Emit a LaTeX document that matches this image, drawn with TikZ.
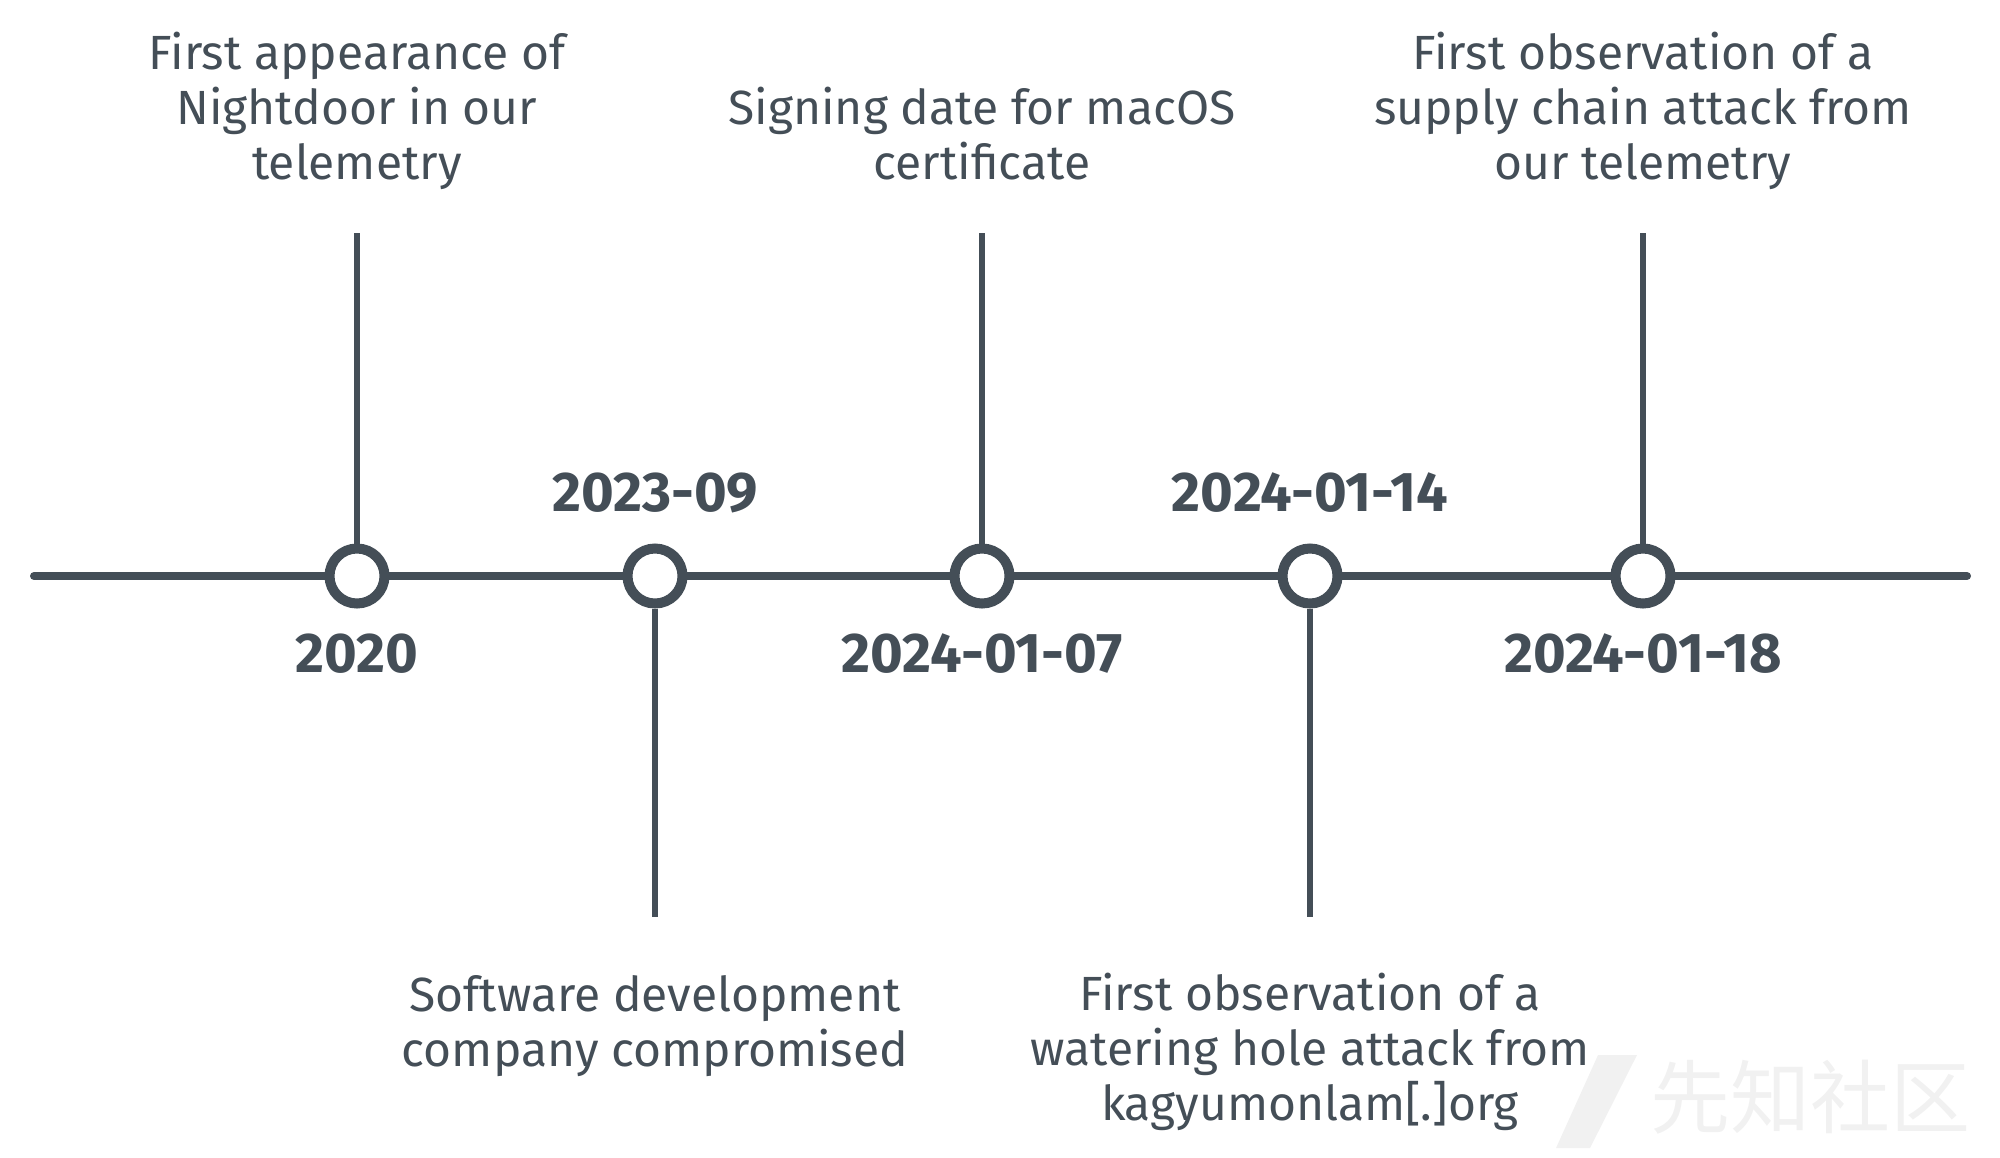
\documentclass[tikz,border=0pt]{standalone}
\usepackage{fontspec}
\setmainfont{Fira Sans}
\newfontfamily\cjk{Noto Sans CJK SC}
\definecolor{ink}{HTML}{444E57}
\definecolor{wm}{HTML}{F1F1F1}
\begin{document}
\begin{tikzpicture}[x=0.5pt,y=-0.5pt,
  axis/.style={draw=ink,line width=4pt,line cap=round},
  stem/.style={draw=ink,line width=3pt},
  ring/.style={circle,draw=ink,line width=5pt,fill=white,minimum size=27.5pt,inner sep=0pt},
  datelbl/.style={text=ink,font=\fontsize{28}{32}\selectfont\bfseries},
  desc/.style={text=ink,align=center,font=\fontsize{24}{27.5}\selectfont,inner sep=0pt}]
\useasboundingbox (0,0) rectangle (2000,1157);
% axis end points
\coordinate (L) at (34,576);
\coordinate (R) at (1967,576);
\draw[axis] (L) -- (R);
% event circles
\node[ring] (e1) at (357,576) {};
\node[ring] (e2) at (655,576) {};
\node[ring] (e3) at (982,576) {};
\node[ring] (e4) at (1310,576) {};
\node[ring] (e5) at (1643,576) {};
% stem end points
\coordinate (t1) at (357,233);
\coordinate (b2) at (655,917);
\coordinate (t3) at (982,233);
\coordinate (b4) at (1310,917);
\coordinate (t5) at (1643,233);
\draw[stem] (t1) -- (e1.north);
\draw[stem] (e2.south) -- (b2);
\draw[stem] (t3) -- (e3.north);
\draw[stem] (e4.south) -- (b4);
\draw[stem] (t5) -- (e5.north);
% dates
\node[datelbl] (d1) at (357,654) {2020};
\node[datelbl] (d2) at (655,493) {2023-09};
\node[datelbl] (d3) at (982,654) {2024-01-07};
\node[datelbl] (d4) at (1310,493) {2024-01-14};
\node[datelbl] (d5) at (1643,654) {2024-01-18};
% descriptions
\node[desc,anchor=base] (x1) at (357,179) {First appearance of\\Nightdoor in our\\telemetry};
\node[desc,anchor=base] (x3) at (982,179) {Signing date for macOS\\certificate};
\node[desc,anchor=base] (x5) at (1643,179) {First observation of a\\supply chain attack from\\our telemetry};
\node[desc,anchor=base] (x2) at (655,1066) {Software development\\company compromised};
\node[desc,anchor=base] (x4) at (1310,1120) {First observation of a\\watering hole attack from\\kagyumonlam[.]org};
% watermark
\fill[wm] (1598,1055) -- (1637,1055) -- (1590,1148) -- (1556,1148) -- cycle;
\node[text=wm,font=\cjk\fontsize{40}{40}\selectfont] (wmk) at (1810,1097) {先知社区};
\end{tikzpicture}
\end{document}
